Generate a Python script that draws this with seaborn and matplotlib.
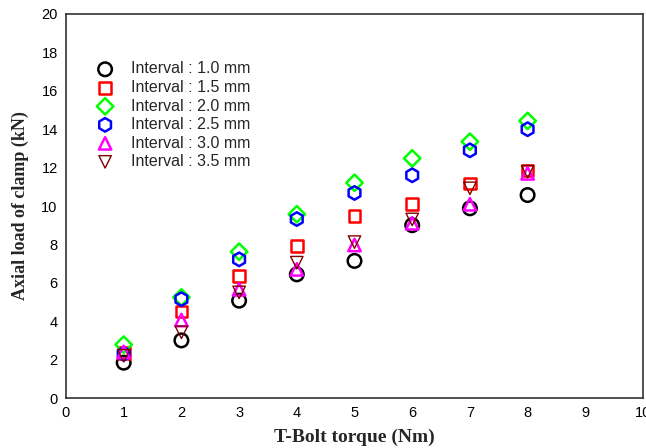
import numpy as np
import pandas as pd
import matplotlib
matplotlib.use("Agg")
import matplotlib.pyplot as plt
import seaborn as sns

# T-Bolt torque (Nm)
torque = [1, 2, 3, 4, 5, 6, 7, 8]

# axial load of clamp (kN) per clamp interval
load_10 = [1.84, 3.00, 5.07, 6.44, 7.14, 9.00, 9.88, 10.57]
load_15 = [2.35, 4.50, 6.34, 7.92, 9.48, 10.09, 11.18, 11.84]
load_20 = [2.78, 5.24, 7.62, 9.57, 11.21, 12.48, 13.35, 14.43]
load_25 = [2.30, 5.15, 7.22, 9.32, 10.68, 11.60, 12.90, 14.00]
load_30 = [2.40, 4.06, 5.66, 6.70, 7.97, 9.10, 10.09, 11.70]
load_35 = [2.20, 3.42, 5.50, 7.05, 8.12, 9.30, 10.92, 11.79]

labels = ["Interval : 1.0 mm", "Interval : 1.5 mm", "Interval : 2.0 mm",
          "Interval : 2.5 mm", "Interval : 3.0 mm", "Interval : 3.5 mm"]

series = [load_10, load_15, load_20, load_25, load_30, load_35]
colors = ["black", "#ff0000", "#00ff00", "#0000ff", "#ff00ff", "#800000"]
markers = ["o", "s", "D", "h", "^", "v"]
sizes = [95, 70, 70, 95, 80, 80]
widths = [1.8, 1.8, 1.8, 1.8, 1.8, 1.0]

sns.set_style("white")
plt.rcParams["font.family"] = ["Liberation Sans", "DejaVu Sans"]

fig = plt.figure(figsize=(6.46, 4.48), dpi=100)
ax = fig.add_axes([66 / 646, 1 - 398 / 448, 577 / 646, 384 / 448])

for vals, lab, c, m, s, lw in zip(series, labels, colors, markers, sizes, widths):
    sns.scatterplot(x=torque, y=vals, marker=m, s=s, facecolor="none",
                    edgecolor=c, linewidth=lw, label=lab, ax=ax, zorder=3)

ax.set_xlim(0, 10)
ax.set_ylim(0, 20)
ax.set_xticks(range(0, 11))
ax.set_yticks(range(0, 21, 2))
ax.tick_params(direction="in", length=4, width=1, labelsize=10.5, colors="black",
               top=False, right=False, pad=6)
for sp in ax.spines.values():
    sp.set_color("#333333")
    sp.set_linewidth(1.2)

ax.set_xlabel("T-Bolt torque (Nm)", fontsize=14, fontweight="bold",
              family=["Liberation Serif"], labelpad=6)
ax.set_ylabel("Axial load of clamp (kN)", fontsize=13, fontweight="bold",
              family=["Liberation Serif"], labelpad=9)

leg = ax.legend(loc="upper left", bbox_to_anchor=(0.029, 0.893), frameon=False,
                fontsize=11.5, handletextpad=0.65, labelspacing=0.22,
                borderaxespad=0)

fig.savefig("out.png", dpi=100)
